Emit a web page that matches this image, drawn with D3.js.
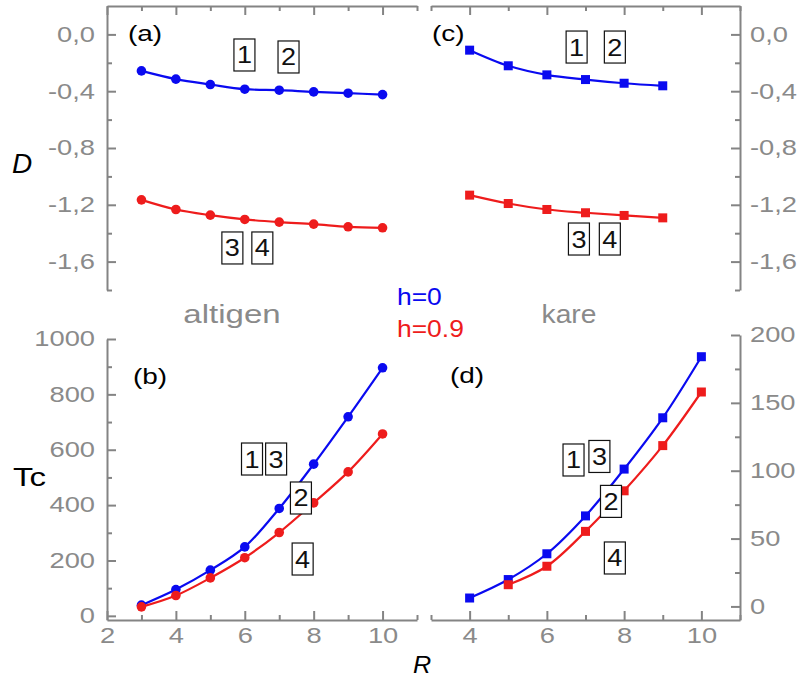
<!DOCTYPE html>
<html>
<head>
<meta charset="utf-8">
<script src="https://cdn.jsdelivr.net/npm/d3@7"></script>
<style>
  html, body { margin: 0; padding: 0; background: #fff; }
  svg { display: block; }
  text { font-family: "Liberation Sans", Arial, sans-serif; }
</style>
</head>
<body>
<script>
// R values for each curve
const rAltigen = [3, 4, 5, 6, 7, 8, 9, 10];
const rKareD = [4, 5, 6, 7, 8, 9];
const rKareTcH0 = [4, 5, 6, 7, 8, 9, 10];
const rKareTcH09 = [5, 6, 7, 8, 9, 10];

// D (panels a, c)
const dAltigenH0 = [-0.257, -0.315, -0.353, -0.386, -0.393, -0.405, -0.414, -0.424];
const dAltigenH09 = [-1.165, -1.233, -1.273, -1.303, -1.322, -1.336, -1.355, -1.362];
const dKareH0 = [-0.111, -0.221, -0.285, -0.318, -0.344, -0.362];
const dKareH09 = [-1.132, -1.191, -1.233, -1.256, -1.275, -1.292];

// Tc (panels b, d)
const tcAltigenH0 = [38.6, 95, 165, 249, 388, 548, 719, 896];
const tcAltigenH09 = [32.5, 73.5, 137, 210, 301, 408, 520, 657];
const tcKareH0 = [6.2, 19.8, 38.8, 66.7, 101.2, 139, 184];
const tcKareH09 = [16, 29.6, 55.3, 85.2, 118.5, 158];

// Tick values
const xMajorAB = [2, 4, 6, 8, 10];
const xMajorCD = [4, 6, 8, 10];
const xMinor = [3, 5, 7, 9, 11];
const dMajor = [0, -0.4, -0.8, -1.2, -1.6];
const dMinor = [-0.2, -0.6, -1.0, -1.4, -1.8];
const tcMajorB = [0, 200, 400, 600, 800, 1000];
const tcMinorB = [100, 300, 500, 700, 900];
const tcMajorD = [0, 50, 100, 150, 200];
const tcMinorD = [25, 75, 125, 175];

// Curve-number tags: [label, R, value]
const tagsA = [["1", 5.99, -0.145], ["2", 7.27, -0.159], ["3", 5.64, -1.504], ["4", 6.51, -1.504]];
const tagsC = [["1", 6.77, -0.089], ["2", 7.76, -0.089], ["3", 6.83, -1.441], ["4", 7.63, -1.441]];
const tagsB = [["1", 6.21, 566.5], ["3", 6.91, 566.5], ["2", 7.63, 425.7], ["4", 7.68, 205.3]];
const tagsD = [["1", 6.69, 107.9], ["3", 7.36, 110.5], ["2", 7.66, 77.4], ["4", 7.76, 35.7]];

const BLUE = "#0a0af0";
const RED = "#ee1c1c";
const AXIS = "#848484";
const LABEL = "#8a8a8a";
const SX = 1.27; // horizontal stretch of the lettering

const svg = d3.select("body").append("svg")
  .attr("width", 801).attr("height", 681);
svg.append("rect").attr("width", 801).attr("height", 681).attr("fill", "#fff");

const xAB = d3.scaleLinear().domain([2, 11]).range([107, 417]);
const xCD = d3.scaleLinear().domain([3, 11]).range([431, 740]);
const yTop = d3.scaleLinear().domain([-1.8, 0.2]).range([290, 6]);
const yB = d3.scaleLinear().domain([-15, 1000]).range([620, 339]);
const yD = d3.scaleLinear().domain([-10, 200]).range([620, 335]);

const commaFmt = d3.formatLocale({decimal: ",", thousands: ".", grouping: [3], currency: ["", ""], minus: "-"}).format(".1f");

function stretchTicks(g) {
  g.selectAll(".tick text").each(function () {
    const t = d3.select(this);
    const x = +t.attr("x") || 0;
    t.attr("x", x / SX).attr("transform", `scale(${SX},1)`);
  });
}

function drawAxis(axisFn, scale, pos, major, minor, fmt, showLabels) {
  const g = svg.append("g").attr("transform", pos);
  const ax = axisFn(scale).tickValues(major).tickSizeInner(-9).tickSizeOuter(0).tickPadding(showLabels.pad || 10)
    .tickFormat(showLabels.on ? fmt : () => "");
  g.call(ax);
  const gm = svg.append("g").attr("transform", pos);
  gm.call(axisFn(scale).tickValues(minor).tickSizeInner(-5).tickSizeOuter(0).tickFormat(() => ""));
  gm.select(".domain").remove();
  [g, gm].forEach(s => {
    s.selectAll(".domain, .tick line").attr("stroke", AXIS).attr("stroke-width", 2);
  });
  g.selectAll(".tick text").attr("fill", LABEL).attr("font-size", 21.5)
    .attr("font-family", "Liberation Sans, Arial, sans-serif");
  stretchTicks(g);
  return g;
}

// Panel (a): left + top axes
drawAxis(d3.axisLeft, yTop, `translate(${xAB(2)},0)`, dMajor, dMinor, commaFmt, {on: true, pad: 12});
drawAxis(d3.axisTop, xAB, `translate(0,${yTop(0.2)})`, xMajorAB, xMinor, null, {on: false});
// Panel (c): right + top axes
drawAxis(d3.axisRight, yTop, `translate(${xCD(11)},0)`, dMajor, dMinor, commaFmt, {on: true, pad: 10});
drawAxis(d3.axisTop, xCD, `translate(0,${yTop(0.2)})`, xMajorCD, xMinor, null, {on: false});
// Panel (b): left + bottom axes
drawAxis(d3.axisLeft, yB, `translate(${xAB(2)},0)`, tcMajorB, tcMinorB, d3.format("d"), {on: true, pad: 12});
drawAxis(d3.axisBottom, xAB, `translate(0,${yB(-15)})`, xMajorAB, xMinor, d3.format("d"), {on: true, pad: 8});
// Panel (d): right + bottom axes
drawAxis(d3.axisRight, yD, `translate(${xCD(11)},0)`, tcMajorD, tcMinorD, d3.format("d"), {on: true, pad: 10});
drawAxis(d3.axisBottom, xCD, `translate(0,${yD(-10)})`, xMajorCD, xMinor, d3.format("d"), {on: true, pad: 8});

function series(xs, ys, xScale, yScale, color, shape) {
  const pts = xs.map((r, i) => [xScale(r), yScale(ys[i])]);
  svg.append("path")
    .attr("d", d3.line().curve(d3.curveCatmullRom.alpha(0.5))(pts))
    .attr("fill", "none").attr("stroke", color).attr("stroke-width", 2.2);
  const g = svg.append("g").attr("fill", color);
  if (shape === "circle") {
    g.selectAll("circle").data(pts).join("circle")
      .attr("cx", d => d[0]).attr("cy", d => d[1]).attr("r", 4.8);
  } else {
    g.selectAll("rect").data(pts).join("rect")
      .attr("x", d => d[0] - 4.5).attr("y", d => d[1] - 4.5)
      .attr("width", 9).attr("height", 9);
  }
}

series(rAltigen, dAltigenH0, xAB, yTop, BLUE, "circle");
series(rAltigen, dAltigenH09, xAB, yTop, RED, "circle");
series(rKareD, dKareH0, xCD, yTop, BLUE, "square");
series(rKareD, dKareH09, xCD, yTop, RED, "square");
series(rAltigen, tcAltigenH0, xAB, yB, BLUE, "circle");
series(rAltigen, tcAltigenH09, xAB, yB, RED, "circle");
series(rKareTcH0, tcKareH0, xCD, yD, BLUE, "square");
series(rKareTcH09, tcKareH09, xCD, yD, RED, "square");

function tags(list, xScale, yScale) {
  list.forEach(([lab, r, v]) => {
    const cx = xScale(r), cy = yScale(v);
    svg.append("rect").attr("x", cx - 10.5).attr("y", cy - 16).attr("width", 21).attr("height", 32)
      .attr("fill", "#fff").attr("stroke", "#111").attr("stroke-width", 1.2);
    svg.append("text").attr("x", cx / 1.15).attr("y", cy + 8.5)
      .attr("transform", "scale(1.15,1)")
      .attr("text-anchor", "middle").attr("font-size", 23.5).attr("fill", "#111").text(lab);
  });
}
tags(tagsA, xAB, yTop);
tags(tagsC, xCD, yTop);
tags(tagsB, xAB, yB);
tags(tagsD, xCD, yD);

// Free text
function label(txt, x, y, opts) {
  const s = opts.sx || SX;
  const t = svg.append("text")
    .attr("x", x / s).attr("y", y)
    .attr("transform", `scale(${s},1)`)
    .attr("font-size", opts.size)
    .attr("fill", opts.fill || "#000")
    .attr("text-anchor", opts.anchor || "start")
    .text(txt);
  if (opts.italic) t.attr("font-style", "italic");
  return t;
}

label("(a)", 128, 41, {size: 22});
label("(c)", 432, 41, {size: 22});
label("(b)", 133, 384, {size: 22});
label("(d)", 450, 383, {size: 22});

label("D", 12, 173, {size: 28, italic: true, sx: 1.0});
label("Tc", 13, 486, {size: 26});
label("R", 413, 673, {size: 24, italic: true, sx: 1.05});

label("altigen", 232, 323, {size: 26, anchor: "middle", fill: LABEL});
label("kare", 569, 323, {size: 25, anchor: "middle", fill: LABEL, sx: 1.13});

label("h=0", 397, 305, {size: 23, fill: BLUE, sx: 1.15});
label("h=0.9", 397, 337, {size: 23, fill: RED, sx: 1.15});
</script>
</body>
</html>
